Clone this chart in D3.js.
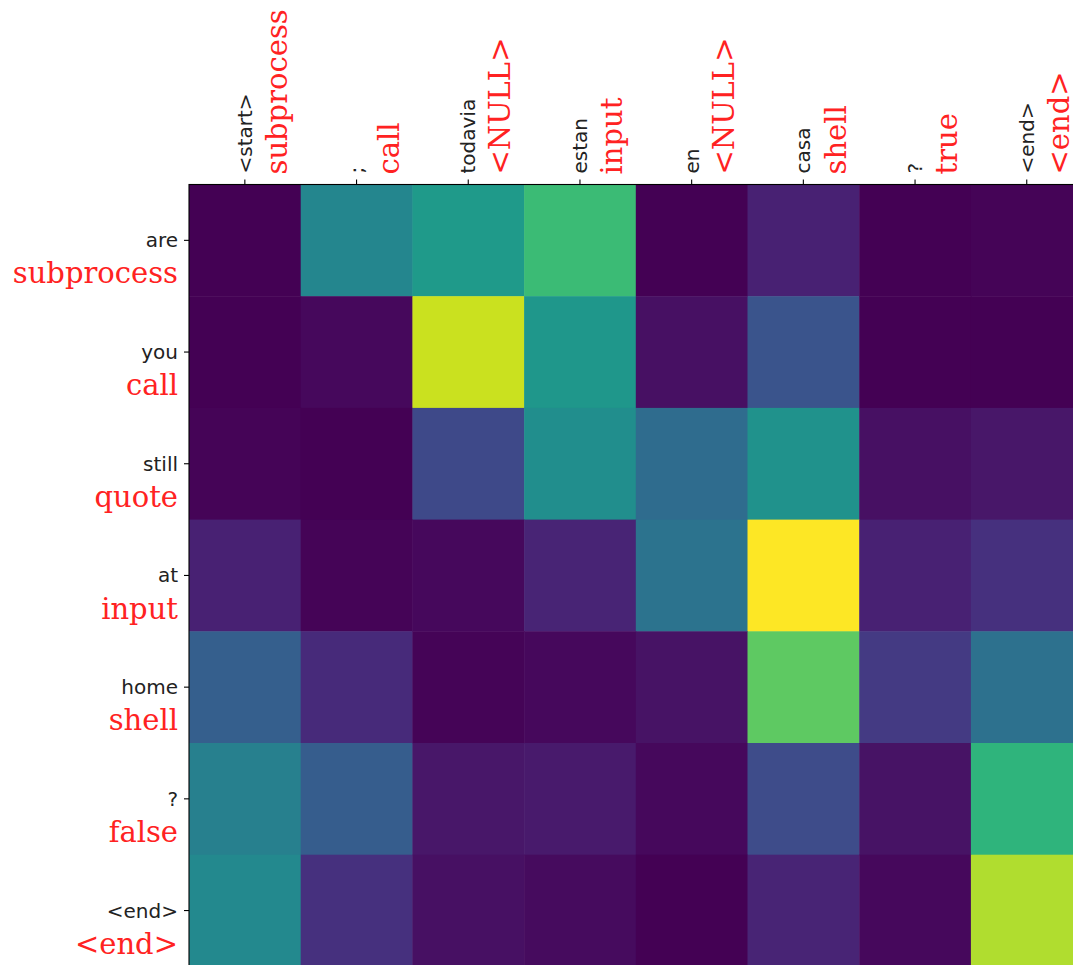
<!DOCTYPE html>
<html>
<head>
<meta charset="utf-8">
<script src="https://cdn.jsdelivr.net/npm/d3@7"></script>
<style>
  html, body { margin: 0; padding: 0; background: #fff; }
  svg { display: block; }
</style>
</head>
<body>
<svg id="mysvg" width="1073" height="965"><g></g></svg>
<script>
// source sentence (columns) with the predicted tokens in red
const srcTokens = ['<start>', ';', 'todavia', 'estan', 'en', 'casa', '?', '<end>'];
const srcRed = ['subprocess', 'call', '<NULL>', 'input', '<NULL>', 'shell', 'true', '<end>'];

// target sentence (rows)
const tgtTokens = ['are', 'you', 'still', 'at', 'home', '?', '<end>'];
const tgtRed = ['subprocess', 'call', 'quote', 'input', 'shell', 'false', '<end>'];

// attention weights, one row per target token
const weights = [
  [0.00, 0.46, 0.54, 0.68, 0.00, 0.09, 0.00, 0.01],
  [0.00, 0.02, 0.92, 0.53, 0.04, 0.26, 0.00, 0.00],
  [0.01, 0.00, 0.22, 0.49, 0.35, 0.51, 0.04, 0.06],
  [0.09, 0.01, 0.02, 0.10, 0.38, 1.00, 0.09, 0.14],
  [0.30, 0.12, 0.01, 0.02, 0.05, 0.75, 0.17, 0.37],
  [0.43, 0.29, 0.06, 0.07, 0.02, 0.23, 0.05, 0.65],
  [0.47, 0.14, 0.04, 0.03, 0.00, 0.10, 0.02, 0.88]
];

const margin = { top: 184.5, left: 189 },
  cell = 111.7,
  innerWidth = cell * srcTokens.length,
  innerHeight = cell * tgtTokens.length;

const svg = d3.select('#mysvg').select('g')
  .attr('transform', `translate(${margin.left},${margin.top})`);

const x_Scale = d3.scaleBand().domain(d3.range(srcTokens.length)).range([0, innerWidth]);
const y_Scale = d3.scaleBand().domain(d3.range(tgtTokens.length)).range([0, innerHeight]);

const allValues = weights.flat();
const color = d3.scaleSequential(d3.interpolateViridis).domain(d3.extent(allValues));

const cells = [];
weights.forEach((row, r) => row.forEach((v, c) => cells.push({ r: r, c: c, v: v })));

svg.selectAll('.cell').data(cells).join('rect').attr('class', 'cell')
  .attr('x', d => x_Scale(d.c)).attr('y', d => y_Scale(d.r))
  .attr('width', x_Scale.bandwidth() + 0.5).attr('height', y_Scale.bandwidth() + 0.5)
  .attr('fill', d => color(d.v));

// frame (only top and left are inside the picture)
svg.append('rect').attr('x', 0).attr('y', 0).attr('width', innerWidth).attr('height', innerHeight)
  .attr('fill', 'none').attr('stroke', '#000').attr('stroke-width', 1.1);

// top axis
const xAxis = svg.append('g').attr('class', 'x axis')
  .call(d3.axisTop(x_Scale).tickSize(5).tickFormat(''));
xAxis.select('.domain').remove();
xAxis.selectAll('.tick line').attr('stroke', '#000').attr('stroke-width', 1.1);

xAxis.selectAll('.tick').append('text')
  .attr('transform', 'translate(0,-11) rotate(-90)')
  .attr('text-anchor', 'start').attr('dy', '0.35em')
  .attr('fill', '#222').style('font-family', 'DejaVu Sans').style('font-size', '20px')
  .text(d => srcTokens[d]);

xAxis.selectAll('.tick').append('text')
  .attr('transform', 'translate(32,-10) rotate(-90)')
  .attr('text-anchor', 'start').attr('dy', '0.35em')
  .attr('fill', '#f22').style('font-family', 'DejaVu Serif').style('font-size', '29px')
  .text(d => srcRed[d]);

// left axis
const yAxis = svg.append('g').attr('class', 'y axis')
  .call(d3.axisLeft(y_Scale).tickSize(5).tickFormat(''));
yAxis.select('.domain').remove();
yAxis.selectAll('.tick line').attr('stroke', '#000').attr('stroke-width', 1.1);

yAxis.selectAll('.tick').append('text')
  .attr('x', -11).attr('y', 0).attr('dy', '0.35em')
  .attr('text-anchor', 'end')
  .attr('fill', '#222').style('font-family', 'DejaVu Sans').style('font-size', '20px')
  .text(d => tgtTokens[d]);

yAxis.selectAll('.tick').append('text')
  .attr('x', -11).attr('y', 33).attr('dy', '0.35em')
  .attr('text-anchor', 'end')
  .attr('fill', '#f22').style('font-family', 'DejaVu Serif').style('font-size', '29px')
  .text(d => tgtRed[d]);
</script>
</body>
</html>
